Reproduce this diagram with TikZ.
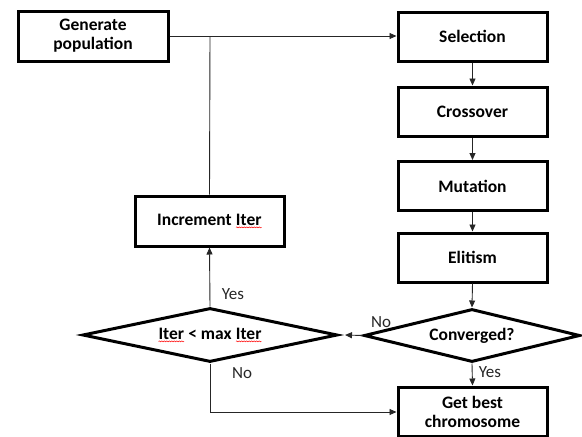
\documentclass[tikz,border=0pt]{standalone}
\usepackage{fontspec}
\setmainfont{Carlito}
\usetikzlibrary{shapes.geometric,arrows.meta,decorations.pathmorphing}
\newcommand{\squig}[1]{\tikz[baseline=(w.base),x=1pt,y=1pt]{\node[shape=rectangle,draw=none,minimum width=0pt,minimum height=0pt,inner sep=0pt,outer sep=0pt](w){#1};\draw[red,line width=0.5pt,decorate,decoration={snake,amplitude=0.5pt,segment length=2.5pt}] ([yshift=-2pt]w.south west) -- ([yshift=-2pt]w.south east);}}
\tikzset{
  stepbox/.style={draw=black,line width=3pt,minimum width=149pt,minimum height=49pt,inner sep=2pt,align=center,font=\fontsize{17.5}{19}\selectfont\bfseries},
  decbox/.style={draw=black,line width=3pt,diamond,inner sep=0pt,align=center,font=\fontsize{17.5}{19}\selectfont\bfseries},
  conn/.style={draw=black!85,line width=0.9pt},
  arr/.style={conn,-{Triangle[length=7pt,width=6pt]}},
  lbl/.style={font=\fontsize{17}{18.5}\selectfont,text=black!85,inner sep=0pt}
}
\begin{document}
\begin{tikzpicture}[x=1pt,y=-1pt]
\useasboundingbox (0,0) rectangle (582,437);
\node[stepbox,minimum width=150pt,minimum height=50pt] (gen) at (93,36) {Generate\\population};
\node[stepbox] (sel) at (472.5,36.5) {Selection};
\node[stepbox] (cross) at (472.5,111.5) {Crossover};
\node[stepbox] (mut) at (472.5,186) {Mutation};
\node[stepbox] (elit) at (472.5,257.5) {Elitism};
\node[decbox,shape aspect=4.08,minimum width=216pt,minimum height=53pt] (conv) at (472,335.5) {Converged?};
\node[stepbox] (best) at (472.5,411.5) {Get best\\chromosome};
\node[stepbox,minimum height=50pt] (inc) at (209.5,221) {Increment \squig{Iter}};
\node[decbox,shape aspect=4.72,minimum width=255pt,minimum height=54pt] (iter) at (210,335) {\squig{Iter} < max \squig{Iter}};
\coordinate (top) at (210,36);
\coordinate (bend) at (210,412);
\draw[arr] (gen.east) -- (gen.east -| sel.west);
\draw[conn] (inc.north) -- (top);
\draw[arr] (sel.south) -- (cross.north);
\draw[arr] (cross.south) -- (mut.north);
\draw[arr] (mut.south) -- (elit.north);
\draw[arr] (elit.south) -- (conv.north);
\draw[arr] (conv.west) -- ([xshift=6pt]iter.east);
\draw[arr] (conv.south) -- (best.north);
\draw[arr] (iter.north) -- (inc.south);
\draw[conn] (iter.south) -- (bend);
\draw[arr] (bend) -- (bend -| best.west);
\node[lbl] (lno1) at (381,322) {No};
\node[lbl] (lyes1) at (490,372) {Yes};
\node[lbl] (lyes2) at (233,294) {Yes};
\node[lbl] (lno2) at (242,373) {No};
\end{tikzpicture}
\end{document}
